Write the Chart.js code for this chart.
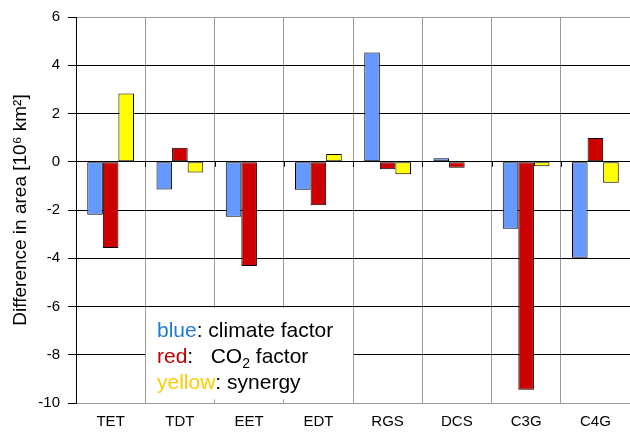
<!DOCTYPE html>
<html>
<head>
<meta charset="utf-8">
<script src="https://cdn.jsdelivr.net/npm/chart.js@4.4.1/dist/chart.umd.min.js"></script>
<style>
  html, body { margin: 0; padding: 0; background: #fff; }
  #wrap { width: 630px; height: 437px; }
</style>
</head>
<body>
<div id="wrap"><canvas id="myChart" width="630" height="437"></canvas></div>
<script>
// vegetation classes and the three change components (10^6 km2)
const categories = ['TET', 'TDT', 'EET', 'EDT', 'RGS', 'DCS', 'C3G', 'C4G'];
const climateFactor = [-2.2, -1.15, -2.28, -1.16, 4.53, 0.14, -2.78, -3.98];
const co2Factor = [-3.58, 0.58, -4.32, -1.8, -0.31, -0.25, -9.45, 0.98];
const synergy = [2.83, -0.45, 0.02, 0.32, -0.52, -0.03, -0.19, -0.87];
const yTicks = [6, 4, 2, 0, -2, -4, -6, -8, -10];

const FONT = '"Liberation Sans", Arial, sans-serif';

// small ticks where the category axis crosses zero
const zeroTicks = {
  id: 'zeroTicks',
  afterDatasetsDraw(chart) {
    const { ctx, scales: { x, y } } = chart;
    const y0 = y.getPixelForValue(0);
    ctx.save();
    ctx.strokeStyle = '#000';
    ctx.lineWidth = 1;
    for (let i = 0; i < categories.length - 1; i++) {
      const px = Math.round(x.getPixelForValue(i + 0.5)) + 0.5;
      ctx.beginPath();
      ctx.moveTo(px, y0);
      ctx.lineTo(px, y0 + 5);
      ctx.stroke();
    }
    ctx.restore();
  }
};

// text box with the colour key
const keyBox = {
  id: 'keyBox',
  afterDraw(chart) {
    const { ctx, scales: { x, y } } = chart;
    const left = Math.round(x.getPixelForValue(0.5)) + 0.5;
    const right = Math.round(x.getPixelForValue(3.5)) + 0.5;
    const top = Math.round(y.getPixelForValue(-6)) + 0.5;
    const bottom = Math.round(y.getPixelForValue(-9.83));
    ctx.save();
    ctx.fillStyle = '#fff';
    ctx.fillRect(left, top + 0.5, right - left, bottom - top);
    ctx.strokeStyle = '#999';
    ctx.lineWidth = 1;
    ctx.beginPath();
    ctx.moveTo(left, top + 1);
    ctx.lineTo(left, bottom);
    ctx.moveTo(right, bottom);
    ctx.lineTo(right, top + 1);
    ctx.stroke();

    const font = '21px ' + FONT;
    const small = '14px ' + FONT;
    ctx.textBaseline = 'alphabetic';
    const parts = (tx, ty, list) => {
      let cx = tx;
      list.forEach(([t, c, f, dy]) => {
        ctx.font = f || font;
        ctx.fillStyle = c;
        ctx.fillText(t, cx, ty + (dy || 0));
        cx += ctx.measureText(t).width;
      });
    };
    const tx = left + 11.5;
    parts(tx, top + 29, [['blue', '#1F7BD2'], [': climate factor', '#000']]);
    parts(tx, top + 55, [['red', '#C00000'], [':   CO', '#000'], ['2', '#000', small, 5], [' factor', '#000']]);
    parts(tx, top + 81, [['yellow', '#FFCC00'], [': synergy', '#000']]);
    ctx.restore();
  }
};

const ctx = document.getElementById('myChart').getContext('2d');
new Chart(ctx, {
  type: 'bar',
  data: {
    labels: categories,
    datasets: [
      { label: 'climate factor', data: climateFactor, backgroundColor: '#6699FF' },
      { label: 'CO2 factor', data: co2Factor, backgroundColor: '#CC0000' },
      { label: 'synergy', data: synergy, backgroundColor: '#FFFF00' }
    ].map(d => Object.assign(d, {
      borderColor: '#000',
      borderWidth: 1,
      borderSkipped: false,
      categoryPercentage: 0.675,
      barPercentage: 1
    }))
  },
  options: {
    responsive: false,
    animation: false,
    layout: { padding: { top: 15, right: 0, left: 0, bottom: 0 } },
    plugins: {
      legend: { display: false },
      tooltip: { enabled: false }
    },
    scales: {
      x: {
        grid: { color: '#999', lineWidth: 1, drawTicks: false, offset: true },
        border: { color: '#999' },
        ticks: { color: '#000', font: { family: FONT, size: 15 }, padding: 10 },
        afterFit: s => { s.height = 34; }
      },
      y: {
        min: -10,
        max: 6,
        afterBuildTicks: s => { s.ticks = yTicks.map(v => ({ value: v })); },
        grid: {
          color: c => (c.tick && (c.tick.value === 6 || c.tick.value === -10)) ? '#999' : '#000',
          lineWidth: 1,
          tickLength: 8,
          tickColor: '#000'
        },
        border: { color: '#000' },
        ticks: { color: '#000', font: { family: FONT, size: 15 }, padding: 8 },
        title: {
          display: true,
          text: 'Difference in area [10⁶ km²]',
          color: '#000',
          font: { family: FONT, size: 19 },
          padding: { top: 9, bottom: 0 }
        },
        afterFit: s => { s.width = 76; }
      }
    }
  },
  plugins: [zeroTicks, keyBox]
});
</script>
</body>
</html>
